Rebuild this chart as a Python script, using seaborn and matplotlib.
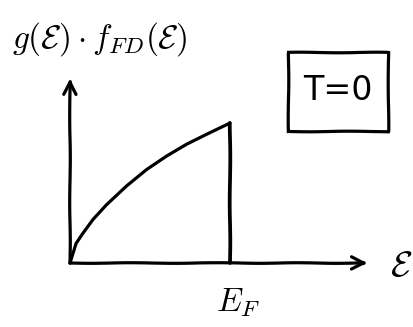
import matplotlib
matplotlib.use("Agg")
import matplotlib.pyplot as plt
from matplotlib.patches import Rectangle
import pandas as pd
import seaborn as sns

# Occupied density of states at T = 0, energies in units of E_F
energy = [0.0, 0.038, 0.079, 0.143, 0.227, 0.353, 0.479, 0.605, 0.731, 0.858, 1.0]
occupied = [0.0, 0.14, 0.21, 0.31, 0.415, 0.55, 0.668, 0.765, 0.85, 0.922, 1.0]
fermi_energy = 1.0
x_axis_end = 1.86
y_axis_end = 1.32

sns.set_style("white")
plt.rcParams["font.family"] = ["DejaVu Sans"]
plt.rcParams["mathtext.fontset"] = "cm"

fig = plt.figure(figsize=(4.14, 3.27), dpi=100)
ax = fig.add_axes([0, 0, 1, 1])
ax.set_xlim(-0.4375, 2.15)
ax.set_ylim(-0.457, 1.879)
ax.axis("off")

ink = "black"
lw = 2.3
sketch = (0.3, 90, 2)

df = pd.DataFrame({"E": energy, "g": occupied})
sns.lineplot(data=df, x="E", y="g", ax=ax, color=ink, lw=lw, sort=False)
for line in ax.lines:
    line.set_solid_joinstyle("round")

# Fermi edge
edge, = ax.plot([fermi_energy, fermi_energy], [0, occupied[-1]], color=ink,
                lw=lw + 0.4, solid_capstyle="round")
edge.set_sketch_params(*sketch)

# Axes with arrow heads
for tip in [(x_axis_end, 0), (0, y_axis_end)]:
    arr = ax.annotate("", xy=tip, xytext=(0, 0),
                      arrowprops=dict(arrowstyle="->,head_length=0.9,head_width=0.45",
                                      color=ink, lw=lw, shrinkA=0, shrinkB=0,
                                      capstyle="round"))
    arr.arrow_patch.set_sketch_params(*sketch)

# Labels
ax.text(-0.36, 1.60, r"$g(\mathcal{E})\cdot f_{FD}(\mathcal{E})$",
        fontsize=24, color=ink, ha="left", va="center")
ax.text(x_axis_end + 0.14, -0.02, r"$\mathcal{E}$", fontsize=26, color=ink,
        ha="left", va="center")
ax.text(fermi_energy + 0.05, -0.28, r"$E_F$", fontsize=24, color=ink,
        ha="center", va="center")

# Temperature box
box = Rectangle((288 / 414, 1 - 131 / 327), 100 / 414, 79 / 327,
                transform=fig.transFigure, fill=False, edgecolor=ink, lw=2.3)
box.set_sketch_params(*sketch)
fig.patches.append(box)
fig.text(338 / 414, 1 - 91 / 327, "T=0", fontsize=24, color=ink,
         ha="center", va="center")

fig.savefig("out.png", dpi=100)
